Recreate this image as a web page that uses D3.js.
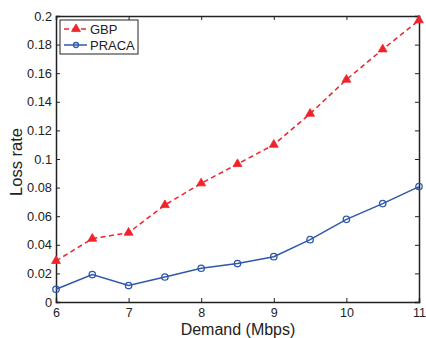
<!DOCTYPE html>
<html><head><meta charset="utf-8">
<script src="https://cdn.jsdelivr.net/npm/d3@7"></script>
<style>body{margin:0;background:#fff}svg{display:block}text{font-family:"Liberation Sans",Arial,sans-serif;fill:#222}</style>
</head><body><svg id="c" width="426" height="338"></svg>
<script>
const demand = [6,6.5,7,7.5,8,8.5,9,9.5,10,10.5,11];
const gbp = [0.0287,0.0443,0.0485,0.0678,0.083,0.0965,0.110,0.1317,0.1555,0.1767,0.197];
const praca = [0.0089,0.0192,0.0115,0.0175,0.0236,0.0269,0.0317,0.0436,0.0578,0.0688,0.0807];
const xTicks = [6,7,8,9,10,11];
const yTicks = [0,0.02,0.04,0.06,0.08,0.1,0.12,0.14,0.16,0.18,0.2];
const seriesNames = ["GBP","PRACA"];

const svg = d3.select("#c");
const L=56, R=419, T=16, B=302;
const x = d3.scaleLinear().domain([6,11]).range([L,R]);
const y = d3.scaleLinear().domain([0,0.2]).range([B,T]);
const red="#f0232b", blue="#2f58ab", axc="#222";

const fmt = d => d===0?"0":String(d);
const gx = svg.append("g").attr("transform",`translate(0,${B})`).call(d3.axisBottom(x).tickValues(xTicks).tickSize(-4).tickPadding(6).tickFormat(fmt));
const gxt = svg.append("g").attr("transform",`translate(0,${T})`).call(d3.axisTop(x).tickValues(xTicks).tickSize(-4).tickFormat(""));
const gy = svg.append("g").attr("transform",`translate(${L},0)`).call(d3.axisLeft(y).tickValues(yTicks).tickSize(-4).tickPadding(4).tickFormat(fmt));
const gyr = svg.append("g").attr("transform",`translate(${R},0)`).call(d3.axisRight(y).tickValues(yTicks).tickSize(-4).tickFormat(""));
[gx,gxt,gy,gyr].forEach(g=>{
  g.selectAll(".domain").attr("stroke",axc).attr("stroke-width",1.5);
  g.selectAll(".tick line").attr("stroke",axc).attr("stroke-width",1);
  g.selectAll("text").style("font-size","12.8px").attr("fill","#222");
});
gx.selectAll("text").style("font-size","12.5px");

svg.append("text").attr("x",238).attr("y",335).attr("text-anchor","middle").style("font-size","16px").text("Demand (Mbps)");
svg.append("text").attr("transform",`translate(22,162) rotate(-90)`).attr("text-anchor","middle").style("font-size","16.5px").text("Loss rate");

const line = d3.line().x((d,i)=>x(demand[i])).y(d=>y(d));
svg.append("path").datum(gbp).attr("d",line).attr("fill","none").attr("stroke",red).attr("stroke-width",1.5).attr("stroke-dasharray","5,3.5");
svg.append("path").datum(praca).attr("d",line).attr("fill","none").attr("stroke",blue).attr("stroke-width",1.5);
const tri = d3.symbol().type(d3.symbolTriangle).size(34);
svg.append("g").selectAll("path").data(gbp).join("path")
  .attr("transform",(d,i)=>`translate(${x(demand[i])},${y(d)})`).attr("d",tri()).attr("fill",red).attr("stroke",red).attr("stroke-width",0.8);
svg.append("g").selectAll("circle").data(praca).join("circle")
  .attr("cx",(d,i)=>x(demand[i])).attr("cy",d=>y(d)).attr("r",3.2).attr("fill","none").attr("stroke",blue).attr("stroke-width",1.3);

const lg = svg.append("g");
lg.append("rect").attr("x",60).attr("y",20).attr("width",78).attr("height",34).attr("fill","#fff").attr("stroke",axc).attr("stroke-width",1);
const ly=[29,45];
lg.append("line").attr("x1",64).attr("x2",87).attr("y1",ly[0]).attr("y2",ly[0]).attr("stroke",red).attr("stroke-width",1.5).attr("stroke-dasharray","5,3.5");
lg.append("path").attr("transform",`translate(76,${ly[0]})`).attr("d",tri()).attr("fill",red).attr("stroke",red).attr("stroke-width",0.8);
lg.append("line").attr("x1",64).attr("x2",87).attr("y1",ly[1]).attr("y2",ly[1]).attr("stroke",blue).attr("stroke-width",1.5);
lg.append("circle").attr("cx",76).attr("cy",ly[1]).attr("r",2.5).attr("fill","none").attr("stroke",blue).attr("stroke-width",1.3);
seriesNames.forEach((n,i)=>lg.append("text").attr("x",90).attr("y",ly[i]).attr("dy","0.35em").style("font-size","13px").text(n));
</script></body></html>
